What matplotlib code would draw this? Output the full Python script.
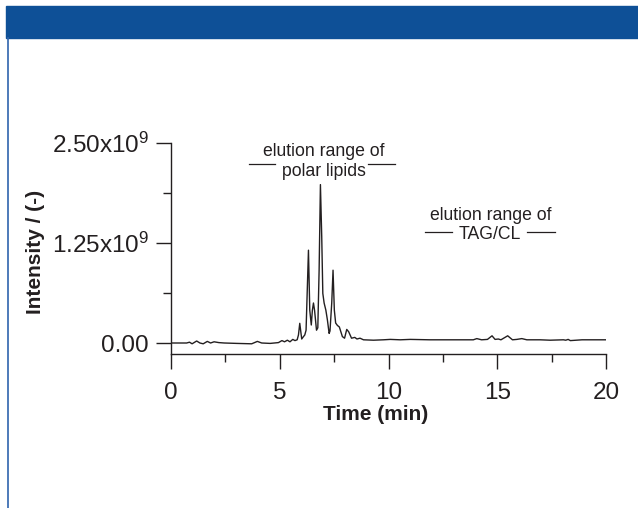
import matplotlib
matplotlib.use("Agg")
import matplotlib.pyplot as plt
from matplotlib.patches import Rectangle
from matplotlib.lines import Line2D

plt.rcParams["font.family"] = ["Liberation Sans", "DejaVu Sans"]
plt.rcParams["mathtext.fontset"] = "custom"
plt.rcParams["mathtext.rm"] = "Liberation Sans"
plt.rcParams["mathtext.it"] = "Liberation Sans"

INK = "#231f20"
BLUE = "#0e5097"

# chromatogram, time in min, intensity in 1e9 counts
time = [0.0, 0.5, 0.72, 0.85, 0.97, 1.18, 1.33, 1.48, 1.67, 1.82, 1.98, 2.2,
        2.45, 3.02, 3.71, 3.97, 4.17, 4.56, 4.94, 5.1, 5.22, 5.35, 5.47, 5.6,
        5.7, 5.8, 5.86, 5.92, 6.01, 6.09, 6.15, 6.21, 6.32, 6.38, 6.45, 6.5,
        6.55, 6.6, 6.69, 6.75, 6.81, 6.87, 6.93, 6.98, 7.04, 7.12, 7.19, 7.27,
        7.31, 7.39, 7.45, 7.51, 7.57, 7.65, 7.74, 7.88, 7.98, 8.08, 8.17, 8.3,
        8.45, 8.55, 8.69, 8.85, 9.31, 9.77, 10.08, 10.54, 11.0, 11.9, 13.14,
        13.9, 14.06, 14.28, 14.55, 14.76, 14.9, 15.05, 15.17, 15.48, 15.7,
        15.9, 16.13, 16.36, 16.97, 17.43, 18.04, 18.15, 18.26, 18.36, 18.9,
        19.97]
intensity = [0.0, 0.0, 0.0, 0.01, -0.01, 0.025, 0.0, -0.01, 0.02, 0.0, 0.015,
             0.005, 0.0, -0.005, -0.01, 0.02, 0.0, -0.005, 0.005, 0.03, 0.015,
             0.035, 0.015, 0.045, 0.03, 0.04, 0.1, 0.246, 0.05, 0.08, 0.1, 0.16,
             1.16, 0.41, 0.225, 0.41, 0.5, 0.41, 0.16, 0.19, 0.91, 1.98, 1.33,
             0.62, 0.5, 0.41, 0.29, 0.12, 0.15, 0.5, 0.91, 0.41, 0.25, 0.22,
             0.2, 0.08, 0.06, 0.17, 0.14, 0.06, 0.07, 0.05, 0.06, 0.04, 0.035,
             0.04, 0.045, 0.04, 0.045, 0.04, 0.04, 0.04, 0.055, 0.04, 0.045,
             0.09, 0.045, 0.05, 0.04, 0.09, 0.04, 0.045, 0.055, 0.04, 0.04,
             0.035, 0.04, 0.035, 0.045, 0.03, 0.04, 0.04]

xticks = [0, 5, 10, 15, 20]
yticks = [0.0, 1.25, 2.5]
ytick_labels = ["0.00", r"1.25x10$^{9}$", r"2.50x10$^{9}$"]

# annotations: text, text centre (x, y), bracket lines (x ranges), line height
notes = [
    ("elution range of\npolar lipids", 7.04, 2.266, [(3.59, 4.79), (9.07, 10.31)], 2.24),
    ("elution range of\nTAG/CL", 14.68, 1.475, [(11.69, 12.92), (16.37, 17.67)], 1.384),
]

fig = plt.figure(figsize=(6.38, 5.08), dpi=100)

# header banner and left rule
fig.patches.append(Rectangle((6 / 638, 1 - 38.3 / 508), 1, 32.3 / 508,
                             transform=fig.transFigure, color=BLUE, zorder=0))
fig.lines.append(Line2D([7.6 / 638, 7.6 / 638], [0, 1 - 38 / 508],
                        transform=fig.transFigure, color="#2f64ad", lw=1.2))

ax = fig.add_axes([171 / 638, 154 / 508, 435 / 638, 211 / 508])
ax.plot(time, intensity, color=INK, lw=1.0)

ax.set_xlim(0, 20)
ax.set_ylim(-0.1375, 2.5)
ax.spines[["top", "right"]].set_visible(False)
for s in ("left", "bottom"):
    ax.spines[s].set_color(INK)
    ax.spines[s].set_linewidth(1.0)

ax.set_xticks(xticks)
ax.set_xticks([2.5, 7.5, 12.5, 17.5], minor=True)
ax.set_yticks(yticks, ytick_labels)
ax.set_yticks([0.625, 1.875], minor=True)
ax.tick_params(which="major", length=11, width=1.0, color=INK,
               labelsize=17.5, labelcolor=INK)
ax.tick_params(which="minor", length=6, width=1.0, color=INK)
ax.tick_params(axis="x", pad=9)
ax.tick_params(axis="y", pad=5)

ax.set_xlabel("Time (min)", fontsize=15, fontweight="bold", color=INK)
ax.xaxis.set_label_coords(0.471, -0.24)
ax.set_ylabel("Intensity / (-)", fontsize=15, fontweight="bold", color=INK)
ax.yaxis.set_label_coords(-0.29, 0.483)

for txt, xc, yc, lines, yl in notes:
    ax.text(xc, yc, txt, ha="center", va="center", fontsize=12.7,
            color=INK, linespacing=1.2)
    for x0, x1 in lines:
        ax.plot([x0, x1], [yl, yl], color=INK, lw=0.9)

fig.savefig("out.png", dpi=100)
